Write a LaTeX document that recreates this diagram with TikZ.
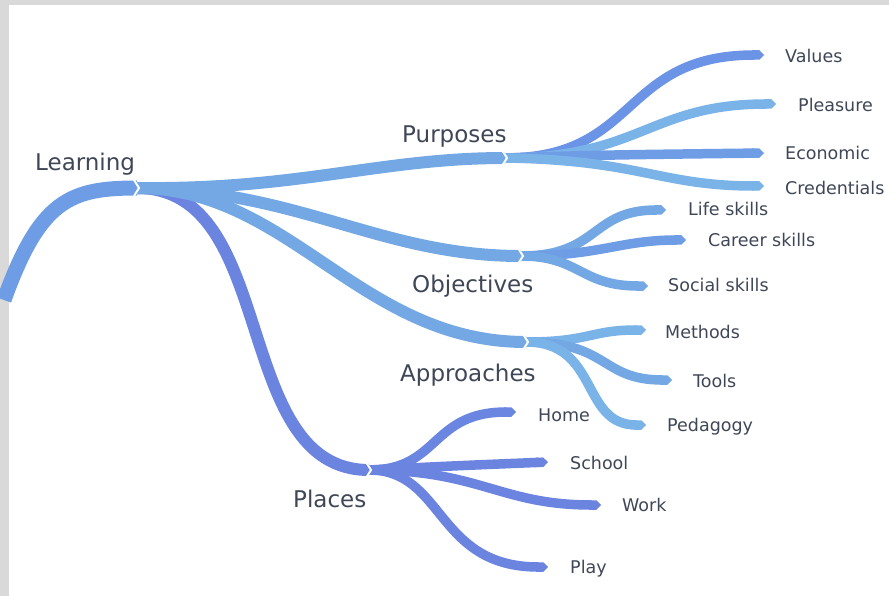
\documentclass[tikz,border=0pt]{standalone}
\usepackage{fontspec}
\setmainfont{DejaVu Sans}
\usetikzlibrary{arrows.meta}

\definecolor{rootblue}{HTML}{6E9DE6}
\definecolor{midblue}{HTML}{73A8E4}
\definecolor{paleblue}{HTML}{7AB3E8}
\definecolor{deepblue}{HTML}{6C94E6}
\definecolor{placeblue}{HTML}{6A84E0}
\definecolor{labelgrey}{HTML}{3F4757}

\begin{document}
\begin{tikzpicture}[x=1pt, y=-1pt,
    trunk/.style={line width=15pt, rootblue, line cap=butt},
    bough/.style={line width=12pt, midblue, line cap=butt},
    twig/.style={line width=9.5pt, midblue, line cap=butt, -{Triangle Cap}},
    notch/.style={white, line width=2pt},
    bigword/.style={labelgrey, font=\fontsize{23}{26}\selectfont, inner sep=0pt, anchor=base west},
    word/.style={labelgrey, font=\fontsize{17.5}{20}\selectfont, inner sep=0pt, anchor=base west}]
% frame
\fill[black!15] (0,0) rectangle (889,596);
\fill[white] (9,5) rectangle (889,596);
\useasboundingbox (0,0) rectangle (889,596);

% junctions
\coordinate (root-foot) at (4,300);
\coordinate (j-learn) at (137,188);
\coordinate (j-purp) at (505,158);
\coordinate (j-obj) at (521,256);
\coordinate (j-appr) at (526,342);
\coordinate (j-place) at (369,470);

% leaf ends
\coordinate (e-values) at (764,55);
\coordinate (e-pleasure) at (776,104);
\coordinate (e-economic) at (764,153);
\coordinate (e-cred) at (764,186);
\coordinate (e-life) at (666,210);
\coordinate (e-career) at (686,240);
\coordinate (e-social) at (648,286);
\coordinate (e-methods) at (646,330);
\coordinate (e-tools) at (672,380);
\coordinate (e-peda) at (646,425);
\coordinate (e-home) at (516,412);
\coordinate (e-school) at (548,462);
\coordinate (e-work) at (601,505);
\coordinate (e-play) at (548,567);

% labels
\node[bigword] (learning) at (35,171) {Learning};
\node[bigword] (purposes) at (402,143) {Purposes};
\node[bigword] (objectives) at (412,292) {Objectives};
\node[bigword] (approaches) at (400,381) {Approaches};
\node[bigword] (places) at (293,507) {Places};

\node[word] (values) at (785,63) {Values};
\node[word] (pleasure) at (798,112) {Pleasure};
\node[word] (economic) at (785,160) {Economic};
\node[word] (credentials) at (785,195) {Credentials};
\node[word] (life) at (688,216) {Life skills};
\node[word] (career) at (708,247) {Career skills};
\node[word] (social) at (668,291) {Social skills};
\node[word] (methods) at (665,338) {Methods};
\node[word] (tools) at (693,387) {Tools};
\node[word] (pedagogy) at (667,431) {Pedagogy};
\node[word] (home) at (538,421) {Home};
\node[word] (school) at (570,469) {School};
\node[word] (work) at (622,511) {Work};
\node[word] (play) at (570,573) {Play};

% places branch, under the others
\draw[bough, placeblue] (j-learn) .. controls (280,188) and (230,470) .. (j-place);
\draw[twig, placeblue!90!rootblue] (j-place) .. controls (440,470) and (430,412) .. (e-home);
\draw[twig, placeblue] (j-place) .. controls (450,466) .. (e-school);
\draw[twig, placeblue] (j-place) .. controls (480,470) and (500,505) .. (e-work);
\draw[twig, placeblue] (j-place) .. controls (445,470) and (435,567) .. (e-play);

% trunk and boughs
\draw[trunk] (root-foot) .. controls (40,200) and (70,188) .. (j-learn);
\draw[bough] (j-learn) .. controls (290,188) and (360,342) .. (j-appr);
\draw[bough] (j-learn) .. controls (300,190) and (380,256) .. (j-obj);
\draw[bough] (j-learn) .. controls (300,190) and (380,158) .. (j-purp);

% purposes
\draw[twig, deepblue] (j-purp) .. controls (640,158) and (620,55) .. (e-values);
\draw[twig, paleblue] (j-purp) .. controls (640,158) and (650,104) .. (e-pleasure);
\draw[twig, rootblue] (j-purp) .. controls (600,155) .. (e-economic);
\draw[twig, paleblue] (j-purp) .. controls (640,160) and (660,186) .. (e-cred);

% objectives
\draw[twig] (j-obj) .. controls (600,256) and (590,210) .. (e-life);
\draw[twig, rootblue] (j-obj) .. controls (600,256) and (620,240) .. (e-career);
\draw[twig] (j-obj) .. controls (580,256) and (580,286) .. (e-social);

% approaches
\draw[twig, paleblue] (j-appr) .. controls (590,342) and (590,330) .. (e-methods);
\draw[twig] (j-appr) .. controls (610,342) and (600,380) .. (e-tools);
\draw[twig, paleblue] (j-appr) .. controls (600,342) and (580,425) .. (e-peda);

% notches
\foreach \j in {j-learn, j-purp, j-obj, j-appr, j-place}
  \draw[notch] ([shift={(-3,-8)}]\j) -- ([shift={(2,0)}]\j) -- ([shift={(-3,8)}]\j);
\end{tikzpicture}
\end{document}
